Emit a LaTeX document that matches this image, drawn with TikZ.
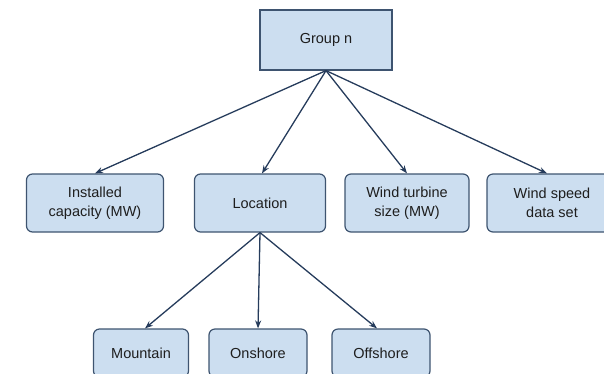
\documentclass[tikz,border=0pt]{standalone}
\usepackage{fontspec}
\setmainfont{Liberation Sans}
\usetikzlibrary{arrows.meta}
\definecolor{boxfill}{RGB}{204,222,240}
\definecolor{boxline}{RGB}{62,84,112}
\definecolor{arrowcol}{RGB}{38,60,92}
\definecolor{txt}{RGB}{30,30,30}
\tikzset{
  box/.style={draw=boxline, fill=boxfill, line width=1.2pt, rounded corners=6pt,
    minimum height=58pt, inner sep=0pt, align=center, text=txt,
    font=\fontsize{14.5}{19}\selectfont},
  topbox/.style={box, rounded corners=0pt, minimum width=132pt, minimum height=60pt},
  conn/.style={draw=arrowcol, line width=1.3pt, -{Stealth[length=8pt,width=6pt]}}
}
\begin{document}
\begin{tikzpicture}[x=1pt,y=-1pt]
\useasboundingbox (0,0) rectangle (604,373);
\begin{scope}
\clip (0,0) rectangle (604,373);
\node[topbox] (g) at (326,40) {Group n};
\node[box, minimum width=137pt] (inst) at (95,203) {Installed\\capacity (MW)};
\node[box, minimum width=131pt] (loc) at (260,203) {Location};
\node[box, minimum width=124pt] (wts) at (407,203) {Wind turbine\\size (MW)};
\node[box, minimum width=130pt] (wsd) at (552,203) {Wind speed\\data set};
\node[box, minimum width=95pt, minimum height=48pt] (mtn) at (141,353) {Mountain};
\node[box, minimum width=98pt, minimum height=48pt] (on) at (258,353) {Onshore};
\node[box, minimum width=98pt, minimum height=48pt] (off) at (381,353) {Offshore};
\coordinate (gb) at (g.south);
\coordinate (lb) at (loc.south);
\draw[conn] (gb) -- (inst.north);
\draw[conn] (gb) -- ([xshift=2pt]loc.north);
\draw[conn] (gb) -- (wts.north);
\draw[conn] (gb) -- ([xshift=-5pt]wsd.north);
\draw[conn] (lb) -- ([xshift=4pt]mtn.north);
\draw[conn] (lb) -- (on.north);
\draw[conn] (lb) -- ([xshift=-4pt]off.north);
\end{scope}
\end{tikzpicture}
\end{document}
